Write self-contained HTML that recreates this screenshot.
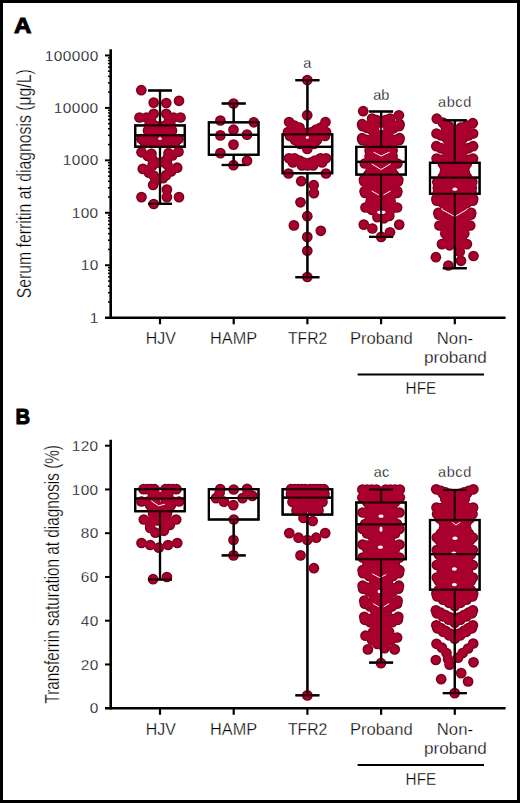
<!DOCTYPE html>
<html><head><meta charset="utf-8"><style>
html,body{margin:0;padding:0;background:#fff;}
text{stroke:#fff;stroke-width:0.28px;}
text.b{stroke:#000;stroke-width:1px;}

body{width:520px;height:803px;position:relative;overflow:hidden;}
.frame{position:absolute;left:0;top:0;width:520px;height:803px;box-sizing:border-box;border:3px solid #000;}
</style></head><body>
<svg width="520" height="803" viewBox="0 0 520 803" style="position:absolute;left:0;top:0">
<g font-family='"Liberation Sans", sans-serif' fill="#000">
<text x="14.00" y="33.40" font-size="22.6" text-anchor="start" font-weight="bold" class="b" stroke="#000" stroke-width="1.0" textLength="17.4" lengthAdjust="spacingAndGlyphs">A</text>
<text x="15.40" y="424.20" font-size="22.6" text-anchor="start" font-weight="bold" class="b" textLength="14.6" lengthAdjust="spacingAndGlyphs">B</text>
<line x1="110.70" y1="49.20" x2="110.70" y2="319.00" stroke="#000" stroke-width="2.6"/>
<line x1="105.00" y1="317.70" x2="505.60" y2="317.70" stroke="#000" stroke-width="2.6"/>
<line x1="108.00" y1="301.91" x2="110.70" y2="301.91" stroke="#000" stroke-width="1.5"/>
<line x1="108.00" y1="292.67" x2="110.70" y2="292.67" stroke="#000" stroke-width="1.5"/>
<line x1="108.00" y1="286.12" x2="110.70" y2="286.12" stroke="#000" stroke-width="1.5"/>
<line x1="108.00" y1="281.04" x2="110.70" y2="281.04" stroke="#000" stroke-width="1.5"/>
<line x1="108.00" y1="276.89" x2="110.70" y2="276.89" stroke="#000" stroke-width="1.5"/>
<line x1="108.00" y1="273.37" x2="110.70" y2="273.37" stroke="#000" stroke-width="1.5"/>
<line x1="108.00" y1="270.33" x2="110.70" y2="270.33" stroke="#000" stroke-width="1.5"/>
<line x1="108.00" y1="267.65" x2="110.70" y2="267.65" stroke="#000" stroke-width="1.5"/>
<text x="98.60" y="322.80" font-size="15.4" text-anchor="end" font-weight="normal" letter-spacing="0.4">1</text>
<line x1="105.00" y1="265.25" x2="110.70" y2="265.25" stroke="#000" stroke-width="2.0"/>
<line x1="108.00" y1="249.46" x2="110.70" y2="249.46" stroke="#000" stroke-width="1.5"/>
<line x1="108.00" y1="240.22" x2="110.70" y2="240.22" stroke="#000" stroke-width="1.5"/>
<line x1="108.00" y1="233.67" x2="110.70" y2="233.67" stroke="#000" stroke-width="1.5"/>
<line x1="108.00" y1="228.59" x2="110.70" y2="228.59" stroke="#000" stroke-width="1.5"/>
<line x1="108.00" y1="224.44" x2="110.70" y2="224.44" stroke="#000" stroke-width="1.5"/>
<line x1="108.00" y1="220.92" x2="110.70" y2="220.92" stroke="#000" stroke-width="1.5"/>
<line x1="108.00" y1="217.88" x2="110.70" y2="217.88" stroke="#000" stroke-width="1.5"/>
<line x1="108.00" y1="215.20" x2="110.70" y2="215.20" stroke="#000" stroke-width="1.5"/>
<text x="98.60" y="270.35" font-size="15.4" text-anchor="end" font-weight="normal" letter-spacing="0.4">10</text>
<line x1="105.00" y1="212.80" x2="110.70" y2="212.80" stroke="#000" stroke-width="2.0"/>
<line x1="108.00" y1="197.01" x2="110.70" y2="197.01" stroke="#000" stroke-width="1.5"/>
<line x1="108.00" y1="187.77" x2="110.70" y2="187.77" stroke="#000" stroke-width="1.5"/>
<line x1="108.00" y1="181.22" x2="110.70" y2="181.22" stroke="#000" stroke-width="1.5"/>
<line x1="108.00" y1="176.14" x2="110.70" y2="176.14" stroke="#000" stroke-width="1.5"/>
<line x1="108.00" y1="171.99" x2="110.70" y2="171.99" stroke="#000" stroke-width="1.5"/>
<line x1="108.00" y1="168.47" x2="110.70" y2="168.47" stroke="#000" stroke-width="1.5"/>
<line x1="108.00" y1="165.43" x2="110.70" y2="165.43" stroke="#000" stroke-width="1.5"/>
<line x1="108.00" y1="162.75" x2="110.70" y2="162.75" stroke="#000" stroke-width="1.5"/>
<text x="98.60" y="217.90" font-size="15.4" text-anchor="end" font-weight="normal" letter-spacing="0.4">100</text>
<line x1="105.00" y1="160.35" x2="110.70" y2="160.35" stroke="#000" stroke-width="2.0"/>
<line x1="108.00" y1="144.56" x2="110.70" y2="144.56" stroke="#000" stroke-width="1.5"/>
<line x1="108.00" y1="135.32" x2="110.70" y2="135.32" stroke="#000" stroke-width="1.5"/>
<line x1="108.00" y1="128.77" x2="110.70" y2="128.77" stroke="#000" stroke-width="1.5"/>
<line x1="108.00" y1="123.69" x2="110.70" y2="123.69" stroke="#000" stroke-width="1.5"/>
<line x1="108.00" y1="119.54" x2="110.70" y2="119.54" stroke="#000" stroke-width="1.5"/>
<line x1="108.00" y1="116.02" x2="110.70" y2="116.02" stroke="#000" stroke-width="1.5"/>
<line x1="108.00" y1="112.98" x2="110.70" y2="112.98" stroke="#000" stroke-width="1.5"/>
<line x1="108.00" y1="110.30" x2="110.70" y2="110.30" stroke="#000" stroke-width="1.5"/>
<text x="98.60" y="165.45" font-size="15.4" text-anchor="end" font-weight="normal" letter-spacing="0.4">1000</text>
<line x1="105.00" y1="107.90" x2="110.70" y2="107.90" stroke="#000" stroke-width="2.0"/>
<line x1="108.00" y1="92.11" x2="110.70" y2="92.11" stroke="#000" stroke-width="1.5"/>
<line x1="108.00" y1="82.87" x2="110.70" y2="82.87" stroke="#000" stroke-width="1.5"/>
<line x1="108.00" y1="76.32" x2="110.70" y2="76.32" stroke="#000" stroke-width="1.5"/>
<line x1="108.00" y1="71.24" x2="110.70" y2="71.24" stroke="#000" stroke-width="1.5"/>
<line x1="108.00" y1="67.09" x2="110.70" y2="67.09" stroke="#000" stroke-width="1.5"/>
<line x1="108.00" y1="63.57" x2="110.70" y2="63.57" stroke="#000" stroke-width="1.5"/>
<line x1="108.00" y1="60.53" x2="110.70" y2="60.53" stroke="#000" stroke-width="1.5"/>
<line x1="108.00" y1="57.85" x2="110.70" y2="57.85" stroke="#000" stroke-width="1.5"/>
<text x="98.60" y="113.00" font-size="15.4" text-anchor="end" font-weight="normal" letter-spacing="0.4">10000</text>
<line x1="105.00" y1="55.45" x2="110.70" y2="55.45" stroke="#000" stroke-width="2.0"/>
<text x="98.60" y="60.55" font-size="15.4" text-anchor="end" font-weight="normal" letter-spacing="0.4">100000</text>
<line x1="160.00" y1="317.70" x2="160.00" y2="324.30" stroke="#000" stroke-width="2.2"/>
<line x1="160.00" y1="708.20" x2="160.00" y2="714.80" stroke="#000" stroke-width="2.2"/>
<line x1="233.70" y1="317.70" x2="233.70" y2="324.30" stroke="#000" stroke-width="2.2"/>
<line x1="233.70" y1="708.20" x2="233.70" y2="714.80" stroke="#000" stroke-width="2.2"/>
<line x1="307.40" y1="317.70" x2="307.40" y2="324.30" stroke="#000" stroke-width="2.2"/>
<line x1="307.40" y1="708.20" x2="307.40" y2="714.80" stroke="#000" stroke-width="2.2"/>
<line x1="381.10" y1="317.70" x2="381.10" y2="324.30" stroke="#000" stroke-width="2.2"/>
<line x1="381.10" y1="708.20" x2="381.10" y2="714.80" stroke="#000" stroke-width="2.2"/>
<line x1="454.80" y1="317.70" x2="454.80" y2="324.30" stroke="#000" stroke-width="2.2"/>
<line x1="454.80" y1="708.20" x2="454.80" y2="714.80" stroke="#000" stroke-width="2.2"/>
<line x1="110.70" y1="439.70" x2="110.70" y2="709.50" stroke="#000" stroke-width="2.6"/>
<line x1="105.00" y1="708.20" x2="505.60" y2="708.20" stroke="#000" stroke-width="2.6"/>
<text x="98.60" y="713.30" font-size="15.4" text-anchor="end" font-weight="normal" letter-spacing="0.4">0</text>
<line x1="105.00" y1="664.45" x2="110.70" y2="664.45" stroke="#000" stroke-width="2.0"/>
<text x="98.60" y="669.55" font-size="15.4" text-anchor="end" font-weight="normal" letter-spacing="0.4">20</text>
<line x1="105.00" y1="620.70" x2="110.70" y2="620.70" stroke="#000" stroke-width="2.0"/>
<text x="98.60" y="625.80" font-size="15.4" text-anchor="end" font-weight="normal" letter-spacing="0.4">40</text>
<line x1="105.00" y1="576.95" x2="110.70" y2="576.95" stroke="#000" stroke-width="2.0"/>
<text x="98.60" y="582.05" font-size="15.4" text-anchor="end" font-weight="normal" letter-spacing="0.4">60</text>
<line x1="105.00" y1="533.20" x2="110.70" y2="533.20" stroke="#000" stroke-width="2.0"/>
<text x="98.60" y="538.30" font-size="15.4" text-anchor="end" font-weight="normal" letter-spacing="0.4">80</text>
<line x1="105.00" y1="489.45" x2="110.70" y2="489.45" stroke="#000" stroke-width="2.0"/>
<text x="98.60" y="494.55" font-size="15.4" text-anchor="end" font-weight="normal" letter-spacing="0.4">100</text>
<line x1="105.00" y1="445.70" x2="110.70" y2="445.70" stroke="#000" stroke-width="2.0"/>
<text x="98.60" y="450.80" font-size="15.4" text-anchor="end" font-weight="normal" letter-spacing="0.4">120</text>
<line x1="160.00" y1="90.50" x2="160.00" y2="125.40" stroke="#000" stroke-width="2.2"/>
<line x1="148.00" y1="90.50" x2="172.00" y2="90.50" stroke="#000" stroke-width="2.2"/>
<line x1="160.00" y1="146.70" x2="160.00" y2="203.80" stroke="#000" stroke-width="2.2"/>
<line x1="148.00" y1="203.80" x2="172.00" y2="203.80" stroke="#000" stroke-width="2.2"/>
<rect x="135.20" y="125.40" width="49.60" height="21.30" fill="none" stroke="#000" stroke-width="2.2"/>
<line x1="135.20" y1="135.40" x2="184.80" y2="135.40" stroke="#000" stroke-width="2.2"/>
<line x1="233.70" y1="103.50" x2="233.70" y2="122.30" stroke="#000" stroke-width="2.2"/>
<line x1="221.70" y1="103.50" x2="245.70" y2="103.50" stroke="#000" stroke-width="2.2"/>
<line x1="233.70" y1="154.80" x2="233.70" y2="165.00" stroke="#000" stroke-width="2.2"/>
<line x1="221.70" y1="165.00" x2="245.70" y2="165.00" stroke="#000" stroke-width="2.2"/>
<rect x="208.90" y="122.30" width="49.60" height="32.50" fill="none" stroke="#000" stroke-width="2.2"/>
<line x1="208.90" y1="134.90" x2="258.50" y2="134.90" stroke="#000" stroke-width="2.2"/>
<line x1="307.40" y1="80.20" x2="307.40" y2="134.30" stroke="#000" stroke-width="2.2"/>
<line x1="295.40" y1="80.20" x2="319.40" y2="80.20" stroke="#000" stroke-width="2.2"/>
<line x1="307.40" y1="173.20" x2="307.40" y2="277.20" stroke="#000" stroke-width="2.2"/>
<line x1="295.40" y1="277.20" x2="319.40" y2="277.20" stroke="#000" stroke-width="2.2"/>
<rect x="282.60" y="134.30" width="49.60" height="38.90" fill="none" stroke="#000" stroke-width="2.2"/>
<line x1="282.60" y1="146.90" x2="332.20" y2="146.90" stroke="#000" stroke-width="2.2"/>
<line x1="381.10" y1="111.50" x2="381.10" y2="146.90" stroke="#000" stroke-width="2.2"/>
<line x1="369.10" y1="111.50" x2="393.10" y2="111.50" stroke="#000" stroke-width="2.2"/>
<line x1="381.10" y1="174.60" x2="381.10" y2="236.90" stroke="#000" stroke-width="2.2"/>
<line x1="369.10" y1="236.90" x2="393.10" y2="236.90" stroke="#000" stroke-width="2.2"/>
<rect x="356.30" y="146.90" width="49.60" height="27.70" fill="none" stroke="#000" stroke-width="2.2"/>
<line x1="356.30" y1="161.80" x2="405.90" y2="161.80" stroke="#000" stroke-width="2.2"/>
<line x1="454.80" y1="120.30" x2="454.80" y2="162.80" stroke="#000" stroke-width="2.2"/>
<line x1="442.80" y1="120.30" x2="466.80" y2="120.30" stroke="#000" stroke-width="2.2"/>
<line x1="454.80" y1="193.80" x2="454.80" y2="268.20" stroke="#000" stroke-width="2.2"/>
<line x1="442.80" y1="268.20" x2="466.80" y2="268.20" stroke="#000" stroke-width="2.2"/>
<rect x="430.00" y="162.80" width="49.60" height="31.00" fill="none" stroke="#000" stroke-width="2.2"/>
<line x1="430.00" y1="177.70" x2="479.60" y2="177.70" stroke="#000" stroke-width="2.2"/>
<line x1="160.00" y1="511.20" x2="160.00" y2="579.50" stroke="#000" stroke-width="2.2"/>
<line x1="148.00" y1="579.50" x2="172.00" y2="579.50" stroke="#000" stroke-width="2.2"/>
<rect x="135.20" y="489.20" width="49.60" height="22.00" fill="none" stroke="#000" stroke-width="2.2"/>
<line x1="135.20" y1="498.50" x2="184.80" y2="498.50" stroke="#000" stroke-width="2.2"/>
<line x1="233.70" y1="519.50" x2="233.70" y2="555.40" stroke="#000" stroke-width="2.2"/>
<line x1="221.70" y1="555.40" x2="245.70" y2="555.40" stroke="#000" stroke-width="2.2"/>
<rect x="208.90" y="489.20" width="49.60" height="30.30" fill="none" stroke="#000" stroke-width="2.2"/>
<line x1="208.90" y1="498.00" x2="258.50" y2="498.00" stroke="#000" stroke-width="2.2"/>
<line x1="307.40" y1="514.60" x2="307.40" y2="695.30" stroke="#000" stroke-width="2.2"/>
<line x1="295.40" y1="695.30" x2="319.40" y2="695.30" stroke="#000" stroke-width="2.2"/>
<rect x="282.60" y="489.20" width="49.60" height="25.40" fill="none" stroke="#000" stroke-width="2.2"/>
<line x1="282.60" y1="497.70" x2="332.20" y2="497.70" stroke="#000" stroke-width="2.2"/>
<line x1="381.10" y1="489.50" x2="381.10" y2="502.50" stroke="#000" stroke-width="2.2"/>
<line x1="369.10" y1="489.50" x2="393.10" y2="489.50" stroke="#000" stroke-width="2.2"/>
<line x1="381.10" y1="559.20" x2="381.10" y2="662.60" stroke="#000" stroke-width="2.2"/>
<line x1="369.10" y1="662.60" x2="393.10" y2="662.60" stroke="#000" stroke-width="2.2"/>
<rect x="356.30" y="502.50" width="49.60" height="56.70" fill="none" stroke="#000" stroke-width="2.2"/>
<line x1="356.30" y1="524.30" x2="405.90" y2="524.30" stroke="#000" stroke-width="2.2"/>
<line x1="454.80" y1="490.00" x2="454.80" y2="520.00" stroke="#000" stroke-width="2.2"/>
<line x1="442.80" y1="490.00" x2="466.80" y2="490.00" stroke="#000" stroke-width="2.2"/>
<line x1="454.80" y1="589.70" x2="454.80" y2="693.10" stroke="#000" stroke-width="2.2"/>
<line x1="442.80" y1="693.10" x2="466.80" y2="693.10" stroke="#000" stroke-width="2.2"/>
<rect x="430.00" y="520.00" width="49.60" height="69.70" fill="none" stroke="#000" stroke-width="2.2"/>
<line x1="430.00" y1="554.20" x2="479.60" y2="554.20" stroke="#000" stroke-width="2.2"/>
<defs><filter id="ring" x="0" y="0" width="520" height="803" filterUnits="userSpaceOnUse"><feMorphology in="SourceAlpha" operator="erode" radius="1.3" result="er"/><feComposite in="SourceGraphic" in2="er" operator="in" result="inner"/><feFlood flood-color="#74001c" result="dk"/><feComposite in="dk" in2="SourceAlpha" operator="in" result="dkall"/><feMerge><feMergeNode in="dkall"/><feMergeNode in="inner"/></feMerge></filter></defs>
<g fill="#aa052e" filter="url(#ring)">
<circle cx="141.3" cy="90.2" r="5.35"/>
<circle cx="153.7" cy="102.6" r="5.35"/>
<circle cx="166.3" cy="103.0" r="5.35"/>
<circle cx="179.0" cy="100.8" r="5.35"/>
<circle cx="153.7" cy="113.8" r="5.35"/>
<circle cx="166.3" cy="113.8" r="5.35"/>
<circle cx="139.5" cy="117.5" r="5.35"/>
<circle cx="146.5" cy="117.5" r="5.35"/>
<circle cx="173.5" cy="117.5" r="5.35"/>
<circle cx="180.5" cy="117.5" r="5.35"/>
<circle cx="151.0" cy="120.5" r="5.35"/>
<circle cx="169.0" cy="120.5" r="5.35"/>
<circle cx="149.0" cy="126.0" r="5.35"/>
<circle cx="156.0" cy="126.0" r="5.35"/>
<circle cx="164.0" cy="126.0" r="5.35"/>
<circle cx="171.0" cy="126.0" r="5.35"/>
<circle cx="148.0" cy="130.5" r="5.35"/>
<circle cx="154.0" cy="130.5" r="5.35"/>
<circle cx="160.0" cy="130.5" r="5.35"/>
<circle cx="166.0" cy="130.5" r="5.35"/>
<circle cx="172.0" cy="130.5" r="5.35"/>
<circle cx="152.0" cy="136.0" r="5.35"/>
<circle cx="168.0" cy="136.0" r="5.35"/>
<circle cx="141.5" cy="139.0" r="5.35"/>
<circle cx="148.0" cy="139.0" r="5.35"/>
<circle cx="154.5" cy="139.0" r="5.35"/>
<circle cx="165.5" cy="139.0" r="5.35"/>
<circle cx="172.0" cy="139.0" r="5.35"/>
<circle cx="178.5" cy="139.0" r="5.35"/>
<circle cx="145.0" cy="143.0" r="5.35"/>
<circle cx="151.5" cy="143.0" r="5.35"/>
<circle cx="160.0" cy="143.0" r="5.35"/>
<circle cx="168.5" cy="143.0" r="5.35"/>
<circle cx="175.0" cy="143.0" r="5.35"/>
<circle cx="141.5" cy="152.3" r="5.35"/>
<circle cx="178.5" cy="151.7" r="5.35"/>
<circle cx="147.7" cy="156.0" r="5.35"/>
<circle cx="172.3" cy="155.4" r="5.35"/>
<circle cx="152.6" cy="159.7" r="5.35"/>
<circle cx="167.4" cy="158.5" r="5.35"/>
<circle cx="156.3" cy="162.8" r="5.35"/>
<circle cx="163.7" cy="162.2" r="5.35"/>
<circle cx="142.8" cy="168.9" r="5.35"/>
<circle cx="177.2" cy="167.7" r="5.35"/>
<circle cx="148.9" cy="172.6" r="5.35"/>
<circle cx="171.0" cy="171.4" r="5.35"/>
<circle cx="153.8" cy="175.7" r="5.35"/>
<circle cx="166.2" cy="175.1" r="5.35"/>
<circle cx="155.7" cy="180.2" r="5.35"/>
<circle cx="163.0" cy="178.2" r="5.35"/>
<circle cx="153.1" cy="185.0" r="5.35"/>
<circle cx="166.9" cy="189.6" r="5.35"/>
<circle cx="141.5" cy="197.1" r="5.35"/>
<circle cx="166.9" cy="197.1" r="5.35"/>
<circle cx="179.0" cy="197.1" r="5.35"/>
<circle cx="153.7" cy="204.0" r="5.35"/>
<circle cx="152.5" cy="165.5" r="5.35"/>
<circle cx="167.5" cy="165.0" r="5.35"/>
<circle cx="151.5" cy="153.8" r="5.35"/>
<circle cx="168.5" cy="153.2" r="5.35"/>
<circle cx="233.5" cy="103.5" r="5.35"/>
<circle cx="220.4" cy="120.5" r="5.35"/>
<circle cx="253.8" cy="122.3" r="5.35"/>
<circle cx="233.5" cy="129.7" r="5.35"/>
<circle cx="220.4" cy="135.4" r="5.35"/>
<circle cx="247.0" cy="134.6" r="5.35"/>
<circle cx="233.5" cy="144.6" r="5.35"/>
<circle cx="220.4" cy="153.1" r="5.35"/>
<circle cx="247.0" cy="160.8" r="5.35"/>
<circle cx="233.5" cy="165.2" r="5.35"/>
<circle cx="307.3" cy="80.0" r="5.35"/>
<circle cx="307.2" cy="115.2" r="5.35"/>
<circle cx="289.1" cy="122.0" r="5.35"/>
<circle cx="325.5" cy="122.0" r="5.35"/>
<circle cx="294.3" cy="125.6" r="5.35"/>
<circle cx="299.5" cy="127.5" r="5.35"/>
<circle cx="320.8" cy="127.5" r="5.35"/>
<circle cx="316.2" cy="129.6" r="5.35"/>
<circle cx="288.0" cy="132.0" r="5.35"/>
<circle cx="295.0" cy="132.0" r="5.35"/>
<circle cx="302.0" cy="132.0" r="5.35"/>
<circle cx="312.0" cy="132.0" r="5.35"/>
<circle cx="319.0" cy="132.0" r="5.35"/>
<circle cx="326.0" cy="132.0" r="5.35"/>
<circle cx="290.0" cy="136.0" r="5.35"/>
<circle cx="297.0" cy="136.0" r="5.35"/>
<circle cx="304.0" cy="136.0" r="5.35"/>
<circle cx="311.0" cy="136.0" r="5.35"/>
<circle cx="318.0" cy="136.0" r="5.35"/>
<circle cx="325.0" cy="136.0" r="5.35"/>
<circle cx="295.0" cy="140.0" r="5.35"/>
<circle cx="302.0" cy="140.0" r="5.35"/>
<circle cx="310.0" cy="140.0" r="5.35"/>
<circle cx="317.0" cy="140.0" r="5.35"/>
<circle cx="300.0" cy="144.0" r="5.35"/>
<circle cx="307.0" cy="144.0" r="5.35"/>
<circle cx="314.0" cy="144.0" r="5.35"/>
<circle cx="307.3" cy="149.0" r="5.35"/>
<circle cx="289.0" cy="158.3" r="5.35"/>
<circle cx="294.5" cy="158.3" r="5.35"/>
<circle cx="320.5" cy="158.3" r="5.35"/>
<circle cx="326.0" cy="158.3" r="5.35"/>
<circle cx="299.5" cy="160.5" r="5.35"/>
<circle cx="315.0" cy="160.5" r="5.35"/>
<circle cx="293.0" cy="162.5" r="5.35"/>
<circle cx="304.0" cy="162.5" r="5.35"/>
<circle cx="310.5" cy="162.5" r="5.35"/>
<circle cx="322.0" cy="162.5" r="5.35"/>
<circle cx="302.0" cy="165.5" r="5.35"/>
<circle cx="307.5" cy="165.5" r="5.35"/>
<circle cx="313.0" cy="165.5" r="5.35"/>
<circle cx="288.5" cy="173.5" r="5.35"/>
<circle cx="326.0" cy="173.5" r="5.35"/>
<circle cx="301.2" cy="181.2" r="5.35"/>
<circle cx="313.7" cy="185.2" r="5.35"/>
<circle cx="313.9" cy="193.1" r="5.35"/>
<circle cx="300.5" cy="202.3" r="5.35"/>
<circle cx="307.3" cy="216.2" r="5.35"/>
<circle cx="293.9" cy="225.4" r="5.35"/>
<circle cx="320.8" cy="230.8" r="5.35"/>
<circle cx="307.3" cy="236.9" r="5.35"/>
<circle cx="307.3" cy="250.8" r="5.35"/>
<circle cx="307.3" cy="277.0" r="5.35"/>
<circle cx="381.1" cy="121.5" r="5.35"/>
<circle cx="376.6" cy="120.0" r="5.35"/>
<circle cx="372.1" cy="118.5" r="5.35"/>
<circle cx="385.6" cy="120.0" r="5.35"/>
<circle cx="390.1" cy="118.5" r="5.35"/>
<circle cx="381.1" cy="131.2" r="5.35"/>
<circle cx="376.4" cy="129.4" r="5.35"/>
<circle cx="371.6" cy="127.7" r="5.35"/>
<circle cx="366.9" cy="126.0" r="5.35"/>
<circle cx="362.1" cy="124.2" r="5.35"/>
<circle cx="385.7" cy="129.4" r="5.35"/>
<circle cx="390.4" cy="127.7" r="5.35"/>
<circle cx="395.0" cy="126.0" r="5.35"/>
<circle cx="399.6" cy="124.2" r="5.35"/>
<circle cx="381.1" cy="133.2" r="5.35"/>
<circle cx="376.5" cy="131.4" r="5.35"/>
<circle cx="371.9" cy="129.7" r="5.35"/>
<circle cx="367.2" cy="128.0" r="5.35"/>
<circle cx="362.6" cy="126.2" r="5.35"/>
<circle cx="387.1" cy="130.9" r="5.35"/>
<circle cx="393.1" cy="128.5" r="5.35"/>
<circle cx="399.1" cy="126.2" r="5.35"/>
<circle cx="381.1" cy="137.0" r="5.35"/>
<circle cx="377.6" cy="135.0" r="5.35"/>
<circle cx="374.1" cy="133.0" r="5.35"/>
<circle cx="384.6" cy="135.0" r="5.35"/>
<circle cx="388.1" cy="133.0" r="5.35"/>
<circle cx="381.1" cy="145.2" r="5.35"/>
<circle cx="376.4" cy="143.4" r="5.35"/>
<circle cx="371.6" cy="141.7" r="5.35"/>
<circle cx="366.9" cy="139.9" r="5.35"/>
<circle cx="362.1" cy="138.2" r="5.35"/>
<circle cx="385.7" cy="143.4" r="5.35"/>
<circle cx="390.4" cy="141.7" r="5.35"/>
<circle cx="395.0" cy="139.9" r="5.35"/>
<circle cx="399.6" cy="138.2" r="5.35"/>
<circle cx="381.1" cy="147.2" r="5.35"/>
<circle cx="376.5" cy="145.4" r="5.35"/>
<circle cx="371.9" cy="143.7" r="5.35"/>
<circle cx="367.2" cy="141.9" r="5.35"/>
<circle cx="362.6" cy="140.2" r="5.35"/>
<circle cx="387.1" cy="144.9" r="5.35"/>
<circle cx="393.1" cy="142.5" r="5.35"/>
<circle cx="399.1" cy="140.2" r="5.35"/>
<circle cx="381.1" cy="149.5" r="5.35"/>
<circle cx="375.6" cy="147.5" r="5.35"/>
<circle cx="370.1" cy="145.5" r="5.35"/>
<circle cx="386.6" cy="147.5" r="5.35"/>
<circle cx="392.1" cy="145.5" r="5.35"/>
<circle cx="381.1" cy="154.5" r="5.35"/>
<circle cx="375.4" cy="152.5" r="5.35"/>
<circle cx="369.6" cy="150.5" r="5.35"/>
<circle cx="386.9" cy="152.5" r="5.35"/>
<circle cx="392.6" cy="150.5" r="5.35"/>
<circle cx="381.1" cy="160.5" r="5.35"/>
<circle cx="375.4" cy="158.5" r="5.35"/>
<circle cx="369.6" cy="156.5" r="5.35"/>
<circle cx="386.9" cy="158.5" r="5.35"/>
<circle cx="392.6" cy="156.5" r="5.35"/>
<circle cx="381.1" cy="167.5" r="5.35"/>
<circle cx="375.7" cy="166.2" r="5.35"/>
<circle cx="370.2" cy="164.8" r="5.35"/>
<circle cx="364.8" cy="163.5" r="5.35"/>
<circle cx="386.5" cy="166.2" r="5.35"/>
<circle cx="392.0" cy="164.8" r="5.35"/>
<circle cx="397.4" cy="163.5" r="5.35"/>
<circle cx="381.1" cy="174.5" r="5.35"/>
<circle cx="375.9" cy="172.5" r="5.35"/>
<circle cx="370.6" cy="170.5" r="5.35"/>
<circle cx="386.4" cy="172.5" r="5.35"/>
<circle cx="391.6" cy="170.5" r="5.35"/>
<circle cx="381.1" cy="179.0" r="5.35"/>
<circle cx="376.8" cy="177.7" r="5.35"/>
<circle cx="372.4" cy="176.3" r="5.35"/>
<circle cx="368.1" cy="175.0" r="5.35"/>
<circle cx="385.4" cy="177.7" r="5.35"/>
<circle cx="389.8" cy="176.3" r="5.35"/>
<circle cx="394.1" cy="175.0" r="5.35"/>
<circle cx="381.1" cy="186.8" r="5.35"/>
<circle cx="375.4" cy="184.5" r="5.35"/>
<circle cx="369.6" cy="182.1" r="5.35"/>
<circle cx="363.9" cy="179.8" r="5.35"/>
<circle cx="386.8" cy="184.5" r="5.35"/>
<circle cx="392.6" cy="182.1" r="5.35"/>
<circle cx="398.3" cy="179.8" r="5.35"/>
<circle cx="381.1" cy="188.5" r="5.35"/>
<circle cx="375.5" cy="186.2" r="5.35"/>
<circle cx="369.9" cy="183.8" r="5.35"/>
<circle cx="364.3" cy="181.5" r="5.35"/>
<circle cx="386.7" cy="186.2" r="5.35"/>
<circle cx="392.3" cy="183.8" r="5.35"/>
<circle cx="397.9" cy="181.5" r="5.35"/>
<circle cx="381.1" cy="191.5" r="5.35"/>
<circle cx="377.1" cy="189.5" r="5.35"/>
<circle cx="373.1" cy="187.5" r="5.35"/>
<circle cx="385.1" cy="189.5" r="5.35"/>
<circle cx="389.1" cy="187.5" r="5.35"/>
<circle cx="381.1" cy="198.2" r="5.35"/>
<circle cx="375.6" cy="195.9" r="5.35"/>
<circle cx="370.1" cy="193.5" r="5.35"/>
<circle cx="364.6" cy="191.2" r="5.35"/>
<circle cx="386.5" cy="195.9" r="5.35"/>
<circle cx="391.9" cy="193.5" r="5.35"/>
<circle cx="397.3" cy="191.2" r="5.35"/>
<circle cx="381.1" cy="200.0" r="5.35"/>
<circle cx="375.8" cy="197.7" r="5.35"/>
<circle cx="370.4" cy="195.3" r="5.35"/>
<circle cx="365.1" cy="193.0" r="5.35"/>
<circle cx="386.4" cy="197.7" r="5.35"/>
<circle cx="391.6" cy="195.3" r="5.35"/>
<circle cx="396.9" cy="193.0" r="5.35"/>
<circle cx="381.1" cy="202.5" r="5.35"/>
<circle cx="377.1" cy="200.5" r="5.35"/>
<circle cx="373.1" cy="198.5" r="5.35"/>
<circle cx="385.1" cy="200.5" r="5.35"/>
<circle cx="389.1" cy="198.5" r="5.35"/>
<circle cx="381.1" cy="205.5" r="5.35"/>
<circle cx="375.9" cy="203.5" r="5.35"/>
<circle cx="370.6" cy="201.5" r="5.35"/>
<circle cx="385.9" cy="203.5" r="5.35"/>
<circle cx="390.6" cy="201.5" r="5.35"/>
<circle cx="375.9" cy="209.5" r="5.35"/>
<circle cx="370.7" cy="208.5" r="5.35"/>
<circle cx="365.5" cy="207.5" r="5.35"/>
<circle cx="386.4" cy="209.5" r="5.35"/>
<circle cx="391.8" cy="208.5" r="5.35"/>
<circle cx="397.1" cy="207.5" r="5.35"/>
<circle cx="376.6" cy="211.0" r="5.35"/>
<circle cx="372.1" cy="210.0" r="5.35"/>
<circle cx="385.6" cy="211.0" r="5.35"/>
<circle cx="390.1" cy="210.0" r="5.35"/>
<circle cx="363.2" cy="111.2" r="5.35"/>
<circle cx="398.9" cy="115.3" r="5.35"/>
<circle cx="377.4" cy="217.1" r="5.35"/>
<circle cx="384.0" cy="218.3" r="5.35"/>
<circle cx="389.3" cy="215.9" r="5.35"/>
<circle cx="363.8" cy="224.6" r="5.35"/>
<circle cx="372.3" cy="228.5" r="5.35"/>
<circle cx="399.2" cy="224.6" r="5.35"/>
<circle cx="390.0" cy="232.3" r="5.35"/>
<circle cx="381.2" cy="236.9" r="5.35"/>
<circle cx="454.8" cy="129.9" r="5.35"/>
<circle cx="448.8" cy="126.2" r="5.35"/>
<circle cx="442.8" cy="122.5" r="5.35"/>
<circle cx="436.8" cy="118.7" r="5.35"/>
<circle cx="460.8" cy="127.7" r="5.35"/>
<circle cx="466.8" cy="125.5" r="5.35"/>
<circle cx="472.8" cy="123.2" r="5.35"/>
<circle cx="454.8" cy="131.5" r="5.35"/>
<circle cx="450.3" cy="129.5" r="5.35"/>
<circle cx="445.8" cy="127.5" r="5.35"/>
<circle cx="459.3" cy="129.5" r="5.35"/>
<circle cx="463.8" cy="127.5" r="5.35"/>
<circle cx="454.8" cy="141.0" r="5.35"/>
<circle cx="450.2" cy="139.1" r="5.35"/>
<circle cx="445.7" cy="137.2" r="5.35"/>
<circle cx="441.1" cy="135.4" r="5.35"/>
<circle cx="436.5" cy="133.5" r="5.35"/>
<circle cx="459.4" cy="139.1" r="5.35"/>
<circle cx="463.9" cy="137.2" r="5.35"/>
<circle cx="468.5" cy="135.4" r="5.35"/>
<circle cx="473.1" cy="133.5" r="5.35"/>
<circle cx="454.8" cy="144.0" r="5.35"/>
<circle cx="451.3" cy="142.0" r="5.35"/>
<circle cx="447.8" cy="140.0" r="5.35"/>
<circle cx="458.3" cy="142.0" r="5.35"/>
<circle cx="461.8" cy="140.0" r="5.35"/>
<circle cx="454.8" cy="153.7" r="5.35"/>
<circle cx="450.2" cy="151.8" r="5.35"/>
<circle cx="445.6" cy="149.9" r="5.35"/>
<circle cx="440.9" cy="148.1" r="5.35"/>
<circle cx="436.3" cy="146.2" r="5.35"/>
<circle cx="459.4" cy="151.8" r="5.35"/>
<circle cx="463.9" cy="149.9" r="5.35"/>
<circle cx="468.5" cy="148.1" r="5.35"/>
<circle cx="473.1" cy="146.2" r="5.35"/>
<circle cx="454.8" cy="156.5" r="5.35"/>
<circle cx="451.3" cy="154.5" r="5.35"/>
<circle cx="447.8" cy="152.5" r="5.35"/>
<circle cx="458.3" cy="154.5" r="5.35"/>
<circle cx="461.8" cy="152.5" r="5.35"/>
<circle cx="454.8" cy="163.5" r="5.35"/>
<circle cx="450.2" cy="162.2" r="5.35"/>
<circle cx="445.7" cy="161.0" r="5.35"/>
<circle cx="441.2" cy="159.8" r="5.35"/>
<circle cx="436.6" cy="158.5" r="5.35"/>
<circle cx="459.4" cy="162.2" r="5.35"/>
<circle cx="463.9" cy="161.0" r="5.35"/>
<circle cx="468.4" cy="159.8" r="5.35"/>
<circle cx="473.0" cy="158.5" r="5.35"/>
<circle cx="454.8" cy="167.5" r="5.35"/>
<circle cx="448.8" cy="165.5" r="5.35"/>
<circle cx="442.8" cy="163.5" r="5.35"/>
<circle cx="460.8" cy="165.5" r="5.35"/>
<circle cx="466.8" cy="163.5" r="5.35"/>
<circle cx="454.8" cy="170.0" r="5.35"/>
<circle cx="449.8" cy="168.5" r="5.35"/>
<circle cx="444.8" cy="167.0" r="5.35"/>
<circle cx="459.8" cy="168.5" r="5.35"/>
<circle cx="464.8" cy="167.0" r="5.35"/>
<circle cx="454.8" cy="175.5" r="5.35"/>
<circle cx="449.8" cy="174.0" r="5.35"/>
<circle cx="444.8" cy="172.5" r="5.35"/>
<circle cx="459.8" cy="174.0" r="5.35"/>
<circle cx="464.8" cy="172.5" r="5.35"/>
<circle cx="454.8" cy="180.0" r="5.35"/>
<circle cx="448.8" cy="178.5" r="5.35"/>
<circle cx="442.8" cy="177.0" r="5.35"/>
<circle cx="460.8" cy="178.5" r="5.35"/>
<circle cx="466.8" cy="177.0" r="5.35"/>
<circle cx="454.8" cy="185.0" r="5.35"/>
<circle cx="449.0" cy="184.0" r="5.35"/>
<circle cx="443.1" cy="183.0" r="5.35"/>
<circle cx="437.3" cy="182.0" r="5.35"/>
<circle cx="460.6" cy="184.0" r="5.35"/>
<circle cx="466.5" cy="183.0" r="5.35"/>
<circle cx="472.3" cy="182.0" r="5.35"/>
<circle cx="449.1" cy="189.3" r="5.35"/>
<circle cx="443.5" cy="188.7" r="5.35"/>
<circle cx="437.8" cy="188.0" r="5.35"/>
<circle cx="460.5" cy="189.3" r="5.35"/>
<circle cx="466.1" cy="188.7" r="5.35"/>
<circle cx="471.8" cy="188.0" r="5.35"/>
<circle cx="454.8" cy="196.0" r="5.35"/>
<circle cx="449.1" cy="195.0" r="5.35"/>
<circle cx="443.5" cy="194.0" r="5.35"/>
<circle cx="437.8" cy="193.0" r="5.35"/>
<circle cx="460.5" cy="195.0" r="5.35"/>
<circle cx="466.1" cy="194.0" r="5.35"/>
<circle cx="471.8" cy="193.0" r="5.35"/>
<circle cx="454.8" cy="205.8" r="5.35"/>
<circle cx="450.2" cy="204.1" r="5.35"/>
<circle cx="445.6" cy="202.3" r="5.35"/>
<circle cx="441.0" cy="200.6" r="5.35"/>
<circle cx="436.4" cy="198.8" r="5.35"/>
<circle cx="459.4" cy="204.1" r="5.35"/>
<circle cx="464.0" cy="202.3" r="5.35"/>
<circle cx="468.6" cy="200.6" r="5.35"/>
<circle cx="473.2" cy="198.8" r="5.35"/>
<circle cx="454.8" cy="207.6" r="5.35"/>
<circle cx="448.8" cy="205.3" r="5.35"/>
<circle cx="442.8" cy="202.9" r="5.35"/>
<circle cx="436.8" cy="200.6" r="5.35"/>
<circle cx="460.8" cy="205.3" r="5.35"/>
<circle cx="466.8" cy="202.9" r="5.35"/>
<circle cx="472.8" cy="200.6" r="5.35"/>
<circle cx="454.8" cy="210.0" r="5.35"/>
<circle cx="451.3" cy="208.5" r="5.35"/>
<circle cx="447.8" cy="207.0" r="5.35"/>
<circle cx="458.3" cy="208.5" r="5.35"/>
<circle cx="461.8" cy="207.0" r="5.35"/>
<circle cx="454.8" cy="219.8" r="5.35"/>
<circle cx="449.3" cy="217.5" r="5.35"/>
<circle cx="443.9" cy="215.1" r="5.35"/>
<circle cx="438.4" cy="212.8" r="5.35"/>
<circle cx="460.3" cy="217.5" r="5.35"/>
<circle cx="465.7" cy="215.1" r="5.35"/>
<circle cx="471.2" cy="212.8" r="5.35"/>
<circle cx="454.8" cy="221.6" r="5.35"/>
<circle cx="449.5" cy="219.3" r="5.35"/>
<circle cx="444.1" cy="216.9" r="5.35"/>
<circle cx="438.8" cy="214.6" r="5.35"/>
<circle cx="460.1" cy="219.3" r="5.35"/>
<circle cx="465.5" cy="216.9" r="5.35"/>
<circle cx="470.8" cy="214.6" r="5.35"/>
<circle cx="454.8" cy="224.6" r="5.35"/>
<circle cx="451.3" cy="222.6" r="5.35"/>
<circle cx="447.8" cy="220.6" r="5.35"/>
<circle cx="458.3" cy="222.6" r="5.35"/>
<circle cx="461.8" cy="220.6" r="5.35"/>
<circle cx="454.8" cy="231.5" r="5.35"/>
<circle cx="449.7" cy="229.5" r="5.35"/>
<circle cx="444.5" cy="227.5" r="5.35"/>
<circle cx="439.4" cy="225.5" r="5.35"/>
<circle cx="459.9" cy="229.5" r="5.35"/>
<circle cx="465.1" cy="227.5" r="5.35"/>
<circle cx="470.2" cy="225.5" r="5.35"/>
<circle cx="454.8" cy="236.5" r="5.35"/>
<circle cx="450.1" cy="235.0" r="5.35"/>
<circle cx="445.3" cy="233.5" r="5.35"/>
<circle cx="459.6" cy="235.0" r="5.35"/>
<circle cx="464.3" cy="233.5" r="5.35"/>
<circle cx="454.8" cy="239.5" r="5.35"/>
<circle cx="451.3" cy="238.5" r="5.35"/>
<circle cx="447.8" cy="237.5" r="5.35"/>
<circle cx="458.3" cy="238.5" r="5.35"/>
<circle cx="461.8" cy="237.5" r="5.35"/>
<circle cx="441.9" cy="244.1" r="5.35"/>
<circle cx="449.6" cy="245.3" r="5.35"/>
<circle cx="459.8" cy="244.7" r="5.35"/>
<circle cx="466.9" cy="244.1" r="5.35"/>
<circle cx="459.8" cy="251.8" r="5.35"/>
<circle cx="435.9" cy="257.2" r="5.35"/>
<circle cx="473.5" cy="256.0" r="5.35"/>
<circle cx="461.0" cy="260.8" r="5.35"/>
<circle cx="448.4" cy="265.5" r="5.35"/>
<circle cx="143.5" cy="489.2" r="5.35"/>
<circle cx="147.5" cy="489.2" r="5.35"/>
<circle cx="151.0" cy="489.2" r="5.35"/>
<circle cx="154.5" cy="489.2" r="5.35"/>
<circle cx="165.5" cy="489.2" r="5.35"/>
<circle cx="169.0" cy="489.2" r="5.35"/>
<circle cx="172.5" cy="489.2" r="5.35"/>
<circle cx="176.5" cy="489.2" r="5.35"/>
<circle cx="160.0" cy="492.5" r="5.35"/>
<circle cx="153.0" cy="495.5" r="5.35"/>
<circle cx="158.0" cy="495.5" r="5.35"/>
<circle cx="163.0" cy="495.5" r="5.35"/>
<circle cx="168.0" cy="495.5" r="5.35"/>
<circle cx="141.5" cy="501.5" r="5.35"/>
<circle cx="148.0" cy="501.5" r="5.35"/>
<circle cx="154.5" cy="501.5" r="5.35"/>
<circle cx="166.0" cy="501.5" r="5.35"/>
<circle cx="172.5" cy="501.5" r="5.35"/>
<circle cx="179.0" cy="501.5" r="5.35"/>
<circle cx="150.0" cy="505.0" r="5.35"/>
<circle cx="156.0" cy="505.0" r="5.35"/>
<circle cx="165.0" cy="505.0" r="5.35"/>
<circle cx="171.0" cy="505.0" r="5.35"/>
<circle cx="152.0" cy="508.5" r="5.35"/>
<circle cx="158.0" cy="508.5" r="5.35"/>
<circle cx="164.0" cy="508.5" r="5.35"/>
<circle cx="169.0" cy="508.5" r="5.35"/>
<circle cx="153.1" cy="513.7" r="5.35"/>
<circle cx="160.0" cy="513.7" r="5.35"/>
<circle cx="166.9" cy="513.7" r="5.35"/>
<circle cx="143.8" cy="519.5" r="5.35"/>
<circle cx="176.2" cy="519.5" r="5.35"/>
<circle cx="150.2" cy="522.3" r="5.35"/>
<circle cx="164.6" cy="522.3" r="5.35"/>
<circle cx="169.8" cy="522.3" r="5.35"/>
<circle cx="150.2" cy="525.0" r="5.35"/>
<circle cx="169.8" cy="525.0" r="5.35"/>
<circle cx="150.2" cy="528.0" r="5.35"/>
<circle cx="164.6" cy="528.0" r="5.35"/>
<circle cx="155.4" cy="532.7" r="5.35"/>
<circle cx="163.8" cy="530.8" r="5.35"/>
<circle cx="141.5" cy="543.0" r="5.35"/>
<circle cx="177.3" cy="543.0" r="5.35"/>
<circle cx="150.2" cy="545.0" r="5.35"/>
<circle cx="168.1" cy="545.0" r="5.35"/>
<circle cx="158.8" cy="547.7" r="5.35"/>
<circle cx="166.9" cy="577.0" r="5.35"/>
<circle cx="153.1" cy="579.2" r="5.35"/>
<circle cx="157.5" cy="520.5" r="5.35"/>
<circle cx="220.3" cy="489.0" r="5.35"/>
<circle cx="233.7" cy="489.5" r="5.35"/>
<circle cx="247.1" cy="488.8" r="5.35"/>
<circle cx="219.6" cy="493.0" r="5.35"/>
<circle cx="216.0" cy="498.2" r="5.35"/>
<circle cx="224.0" cy="501.7" r="5.35"/>
<circle cx="233.3" cy="505.1" r="5.35"/>
<circle cx="242.5" cy="498.2" r="5.35"/>
<circle cx="247.7" cy="493.0" r="5.35"/>
<circle cx="252.3" cy="495.9" r="5.35"/>
<circle cx="233.8" cy="519.5" r="5.35"/>
<circle cx="233.5" cy="540.0" r="5.35"/>
<circle cx="233.5" cy="555.4" r="5.35"/>
<circle cx="291.0" cy="489.2" r="5.35"/>
<circle cx="294.5" cy="489.2" r="5.35"/>
<circle cx="298.0" cy="489.2" r="5.35"/>
<circle cx="301.5" cy="489.2" r="5.35"/>
<circle cx="305.0" cy="489.2" r="5.35"/>
<circle cx="310.0" cy="489.2" r="5.35"/>
<circle cx="313.5" cy="489.2" r="5.35"/>
<circle cx="317.0" cy="489.2" r="5.35"/>
<circle cx="320.5" cy="489.2" r="5.35"/>
<circle cx="324.0" cy="489.2" r="5.35"/>
<circle cx="307.5" cy="491.0" r="5.35"/>
<circle cx="291.0" cy="494.0" r="5.35"/>
<circle cx="297.0" cy="494.0" r="5.35"/>
<circle cx="303.0" cy="494.0" r="5.35"/>
<circle cx="309.0" cy="494.0" r="5.35"/>
<circle cx="315.0" cy="494.0" r="5.35"/>
<circle cx="321.0" cy="494.0" r="5.35"/>
<circle cx="324.5" cy="494.0" r="5.35"/>
<circle cx="293.0" cy="497.5" r="5.35"/>
<circle cx="299.0" cy="497.5" r="5.35"/>
<circle cx="316.0" cy="497.5" r="5.35"/>
<circle cx="322.5" cy="497.5" r="5.35"/>
<circle cx="292.5" cy="502.0" r="5.35"/>
<circle cx="298.5" cy="502.0" r="5.35"/>
<circle cx="305.0" cy="502.0" r="5.35"/>
<circle cx="311.0" cy="502.0" r="5.35"/>
<circle cx="317.0" cy="502.0" r="5.35"/>
<circle cx="322.5" cy="502.0" r="5.35"/>
<circle cx="297.0" cy="506.5" r="5.35"/>
<circle cx="303.0" cy="506.5" r="5.35"/>
<circle cx="312.0" cy="506.5" r="5.35"/>
<circle cx="318.0" cy="506.5" r="5.35"/>
<circle cx="296.5" cy="510.5" r="5.35"/>
<circle cx="302.5" cy="510.5" r="5.35"/>
<circle cx="313.0" cy="510.5" r="5.35"/>
<circle cx="318.5" cy="510.5" r="5.35"/>
<circle cx="303.5" cy="518.0" r="5.35"/>
<circle cx="312.7" cy="521.0" r="5.35"/>
<circle cx="289.3" cy="533.1" r="5.35"/>
<circle cx="325.2" cy="533.1" r="5.35"/>
<circle cx="298.5" cy="537.7" r="5.35"/>
<circle cx="316.2" cy="537.7" r="5.35"/>
<circle cx="307.3" cy="540.0" r="5.35"/>
<circle cx="300.5" cy="555.4" r="5.35"/>
<circle cx="313.9" cy="568.2" r="5.35"/>
<circle cx="307.3" cy="695.4" r="5.35"/>
<circle cx="376.4" cy="489.5" r="5.35"/>
<circle cx="371.8" cy="489.5" r="5.35"/>
<circle cx="367.1" cy="489.5" r="5.35"/>
<circle cx="362.4" cy="489.5" r="5.35"/>
<circle cx="385.8" cy="489.5" r="5.35"/>
<circle cx="390.5" cy="489.5" r="5.35"/>
<circle cx="395.1" cy="489.5" r="5.35"/>
<circle cx="399.8" cy="489.5" r="5.35"/>
<circle cx="381.1" cy="492.0" r="5.35"/>
<circle cx="376.1" cy="492.0" r="5.35"/>
<circle cx="386.1" cy="492.0" r="5.35"/>
<circle cx="381.1" cy="499.5" r="5.35"/>
<circle cx="376.4" cy="499.0" r="5.35"/>
<circle cx="371.8" cy="498.5" r="5.35"/>
<circle cx="367.1" cy="498.0" r="5.35"/>
<circle cx="362.4" cy="497.5" r="5.35"/>
<circle cx="385.8" cy="499.0" r="5.35"/>
<circle cx="390.5" cy="498.5" r="5.35"/>
<circle cx="395.1" cy="498.0" r="5.35"/>
<circle cx="399.8" cy="497.5" r="5.35"/>
<circle cx="381.1" cy="504.0" r="5.35"/>
<circle cx="376.4" cy="503.3" r="5.35"/>
<circle cx="371.8" cy="502.7" r="5.35"/>
<circle cx="367.1" cy="502.0" r="5.35"/>
<circle cx="385.8" cy="503.3" r="5.35"/>
<circle cx="390.4" cy="502.7" r="5.35"/>
<circle cx="395.1" cy="502.0" r="5.35"/>
<circle cx="381.1" cy="508.5" r="5.35"/>
<circle cx="375.4" cy="507.0" r="5.35"/>
<circle cx="369.6" cy="505.5" r="5.35"/>
<circle cx="386.9" cy="507.0" r="5.35"/>
<circle cx="392.6" cy="505.5" r="5.35"/>
<circle cx="381.1" cy="515.5" r="5.35"/>
<circle cx="376.5" cy="514.8" r="5.35"/>
<circle cx="371.9" cy="514.0" r="5.35"/>
<circle cx="367.2" cy="513.2" r="5.35"/>
<circle cx="362.6" cy="512.5" r="5.35"/>
<circle cx="385.7" cy="514.8" r="5.35"/>
<circle cx="390.2" cy="514.0" r="5.35"/>
<circle cx="394.8" cy="513.2" r="5.35"/>
<circle cx="399.4" cy="512.5" r="5.35"/>
<circle cx="381.1" cy="522.5" r="5.35"/>
<circle cx="375.4" cy="521.0" r="5.35"/>
<circle cx="369.6" cy="519.5" r="5.35"/>
<circle cx="386.9" cy="521.0" r="5.35"/>
<circle cx="392.6" cy="519.5" r="5.35"/>
<circle cx="381.1" cy="527.0" r="5.35"/>
<circle cx="375.8" cy="526.0" r="5.35"/>
<circle cx="370.4" cy="525.0" r="5.35"/>
<circle cx="365.1" cy="524.0" r="5.35"/>
<circle cx="386.4" cy="526.0" r="5.35"/>
<circle cx="391.8" cy="525.0" r="5.35"/>
<circle cx="397.1" cy="524.0" r="5.35"/>
<circle cx="381.1" cy="533.0" r="5.35"/>
<circle cx="376.5" cy="532.0" r="5.35"/>
<circle cx="371.9" cy="531.0" r="5.35"/>
<circle cx="367.2" cy="530.0" r="5.35"/>
<circle cx="362.6" cy="529.0" r="5.35"/>
<circle cx="385.7" cy="532.0" r="5.35"/>
<circle cx="390.2" cy="531.0" r="5.35"/>
<circle cx="394.8" cy="530.0" r="5.35"/>
<circle cx="399.4" cy="529.0" r="5.35"/>
<circle cx="381.1" cy="536.5" r="5.35"/>
<circle cx="376.4" cy="535.5" r="5.35"/>
<circle cx="371.8" cy="534.5" r="5.35"/>
<circle cx="367.1" cy="533.5" r="5.35"/>
<circle cx="385.8" cy="535.5" r="5.35"/>
<circle cx="390.4" cy="534.5" r="5.35"/>
<circle cx="395.1" cy="533.5" r="5.35"/>
<circle cx="381.1" cy="542.0" r="5.35"/>
<circle cx="377.2" cy="540.0" r="5.35"/>
<circle cx="373.2" cy="538.0" r="5.35"/>
<circle cx="385.5" cy="540.0" r="5.35"/>
<circle cx="389.9" cy="538.0" r="5.35"/>
<circle cx="381.1" cy="548.5" r="5.35"/>
<circle cx="376.5" cy="547.5" r="5.35"/>
<circle cx="371.9" cy="546.5" r="5.35"/>
<circle cx="367.2" cy="545.5" r="5.35"/>
<circle cx="362.6" cy="544.5" r="5.35"/>
<circle cx="385.7" cy="547.5" r="5.35"/>
<circle cx="390.2" cy="546.5" r="5.35"/>
<circle cx="394.8" cy="545.5" r="5.35"/>
<circle cx="399.4" cy="544.5" r="5.35"/>
<circle cx="381.1" cy="551.5" r="5.35"/>
<circle cx="376.4" cy="550.5" r="5.35"/>
<circle cx="371.8" cy="549.5" r="5.35"/>
<circle cx="367.1" cy="548.5" r="5.35"/>
<circle cx="385.8" cy="550.5" r="5.35"/>
<circle cx="390.4" cy="549.5" r="5.35"/>
<circle cx="395.1" cy="548.5" r="5.35"/>
<circle cx="381.1" cy="556.0" r="5.35"/>
<circle cx="376.9" cy="554.7" r="5.35"/>
<circle cx="372.8" cy="553.3" r="5.35"/>
<circle cx="368.6" cy="552.0" r="5.35"/>
<circle cx="385.3" cy="554.7" r="5.35"/>
<circle cx="389.4" cy="553.3" r="5.35"/>
<circle cx="393.6" cy="552.0" r="5.35"/>
<circle cx="381.1" cy="560.5" r="5.35"/>
<circle cx="376.5" cy="559.8" r="5.35"/>
<circle cx="371.9" cy="559.0" r="5.35"/>
<circle cx="367.2" cy="558.2" r="5.35"/>
<circle cx="362.6" cy="557.5" r="5.35"/>
<circle cx="385.7" cy="559.8" r="5.35"/>
<circle cx="390.2" cy="559.0" r="5.35"/>
<circle cx="394.8" cy="558.2" r="5.35"/>
<circle cx="399.4" cy="557.5" r="5.35"/>
<circle cx="381.1" cy="566.5" r="5.35"/>
<circle cx="376.5" cy="565.2" r="5.35"/>
<circle cx="371.9" cy="563.8" r="5.35"/>
<circle cx="367.3" cy="562.5" r="5.35"/>
<circle cx="385.7" cy="565.2" r="5.35"/>
<circle cx="390.3" cy="563.8" r="5.35"/>
<circle cx="394.9" cy="562.5" r="5.35"/>
<circle cx="381.1" cy="571.0" r="5.35"/>
<circle cx="376.1" cy="568.5" r="5.35"/>
<circle cx="371.1" cy="566.0" r="5.35"/>
<circle cx="386.1" cy="568.5" r="5.35"/>
<circle cx="391.1" cy="566.0" r="5.35"/>
<circle cx="381.1" cy="578.2" r="5.35"/>
<circle cx="376.5" cy="576.2" r="5.35"/>
<circle cx="371.9" cy="574.2" r="5.35"/>
<circle cx="367.2" cy="572.2" r="5.35"/>
<circle cx="362.6" cy="570.2" r="5.35"/>
<circle cx="385.7" cy="576.2" r="5.35"/>
<circle cx="390.2" cy="574.2" r="5.35"/>
<circle cx="394.8" cy="572.2" r="5.35"/>
<circle cx="399.4" cy="570.2" r="5.35"/>
<circle cx="381.1" cy="581.2" r="5.35"/>
<circle cx="375.1" cy="578.5" r="5.35"/>
<circle cx="369.1" cy="575.9" r="5.35"/>
<circle cx="363.1" cy="573.2" r="5.35"/>
<circle cx="387.0" cy="578.5" r="5.35"/>
<circle cx="393.0" cy="575.9" r="5.35"/>
<circle cx="398.9" cy="573.2" r="5.35"/>
<circle cx="381.1" cy="584.5" r="5.35"/>
<circle cx="377.6" cy="582.5" r="5.35"/>
<circle cx="374.1" cy="580.5" r="5.35"/>
<circle cx="384.6" cy="582.5" r="5.35"/>
<circle cx="388.1" cy="580.5" r="5.35"/>
<circle cx="381.1" cy="593.7" r="5.35"/>
<circle cx="376.5" cy="591.7" r="5.35"/>
<circle cx="371.9" cy="589.7" r="5.35"/>
<circle cx="367.2" cy="587.7" r="5.35"/>
<circle cx="362.6" cy="585.7" r="5.35"/>
<circle cx="387.0" cy="591.0" r="5.35"/>
<circle cx="393.0" cy="588.4" r="5.35"/>
<circle cx="398.9" cy="585.7" r="5.35"/>
<circle cx="381.1" cy="596.7" r="5.35"/>
<circle cx="375.1" cy="594.0" r="5.35"/>
<circle cx="369.1" cy="591.4" r="5.35"/>
<circle cx="363.1" cy="588.7" r="5.35"/>
<circle cx="386.9" cy="594.0" r="5.35"/>
<circle cx="392.6" cy="591.4" r="5.35"/>
<circle cx="398.4" cy="588.7" r="5.35"/>
<circle cx="381.1" cy="600.0" r="5.35"/>
<circle cx="377.6" cy="598.0" r="5.35"/>
<circle cx="374.1" cy="596.0" r="5.35"/>
<circle cx="384.6" cy="598.0" r="5.35"/>
<circle cx="388.1" cy="596.0" r="5.35"/>
<circle cx="381.1" cy="608.7" r="5.35"/>
<circle cx="375.5" cy="606.0" r="5.35"/>
<circle cx="369.9" cy="603.4" r="5.35"/>
<circle cx="364.3" cy="600.7" r="5.35"/>
<circle cx="386.6" cy="606.0" r="5.35"/>
<circle cx="392.1" cy="603.4" r="5.35"/>
<circle cx="397.6" cy="600.7" r="5.35"/>
<circle cx="381.1" cy="611.7" r="5.35"/>
<circle cx="375.7" cy="609.0" r="5.35"/>
<circle cx="370.2" cy="606.4" r="5.35"/>
<circle cx="364.8" cy="603.7" r="5.35"/>
<circle cx="386.4" cy="609.0" r="5.35"/>
<circle cx="391.8" cy="606.4" r="5.35"/>
<circle cx="397.1" cy="603.7" r="5.35"/>
<circle cx="381.1" cy="615.0" r="5.35"/>
<circle cx="375.1" cy="611.0" r="5.35"/>
<circle cx="387.1" cy="611.0" r="5.35"/>
<circle cx="381.1" cy="623.8" r="5.35"/>
<circle cx="375.5" cy="621.5" r="5.35"/>
<circle cx="369.9" cy="619.1" r="5.35"/>
<circle cx="364.3" cy="616.8" r="5.35"/>
<circle cx="386.8" cy="621.5" r="5.35"/>
<circle cx="392.6" cy="619.1" r="5.35"/>
<circle cx="398.3" cy="616.8" r="5.35"/>
<circle cx="381.1" cy="626.8" r="5.35"/>
<circle cx="375.7" cy="624.5" r="5.35"/>
<circle cx="370.2" cy="622.1" r="5.35"/>
<circle cx="364.8" cy="619.8" r="5.35"/>
<circle cx="386.7" cy="624.5" r="5.35"/>
<circle cx="392.2" cy="622.1" r="5.35"/>
<circle cx="397.8" cy="619.8" r="5.35"/>
<circle cx="381.1" cy="630.0" r="5.35"/>
<circle cx="376.8" cy="627.0" r="5.35"/>
<circle cx="385.1" cy="627.0" r="5.35"/>
<circle cx="381.1" cy="635.0" r="5.35"/>
<circle cx="377.1" cy="633.5" r="5.35"/>
<circle cx="373.1" cy="632.0" r="5.35"/>
<circle cx="385.1" cy="633.5" r="5.35"/>
<circle cx="389.1" cy="632.0" r="5.35"/>
<circle cx="365.5" cy="635.7" r="5.35"/>
<circle cx="373.8" cy="635.7" r="5.35"/>
<circle cx="389.3" cy="635.7" r="5.35"/>
<circle cx="397.1" cy="637.5" r="5.35"/>
<circle cx="377.4" cy="644.0" r="5.35"/>
<circle cx="385.8" cy="642.9" r="5.35"/>
<circle cx="367.9" cy="649.4" r="5.35"/>
<circle cx="394.7" cy="649.4" r="5.35"/>
<circle cx="384.6" cy="648.2" r="5.35"/>
<circle cx="381.0" cy="663.2" r="5.35"/>
<circle cx="372.0" cy="640.0" r="5.35"/>
<circle cx="391.0" cy="640.0" r="5.35"/>
<circle cx="454.8" cy="495.3" r="5.35"/>
<circle cx="450.2" cy="493.8" r="5.35"/>
<circle cx="445.5" cy="492.3" r="5.35"/>
<circle cx="440.9" cy="490.8" r="5.35"/>
<circle cx="436.2" cy="489.3" r="5.35"/>
<circle cx="459.4" cy="493.8" r="5.35"/>
<circle cx="464.1" cy="492.3" r="5.35"/>
<circle cx="468.8" cy="490.8" r="5.35"/>
<circle cx="473.4" cy="489.3" r="5.35"/>
<circle cx="454.8" cy="496.5" r="5.35"/>
<circle cx="448.8" cy="495.0" r="5.35"/>
<circle cx="442.8" cy="493.5" r="5.35"/>
<circle cx="460.8" cy="495.0" r="5.35"/>
<circle cx="466.8" cy="493.5" r="5.35"/>
<circle cx="454.8" cy="501.0" r="5.35"/>
<circle cx="450.1" cy="500.0" r="5.35"/>
<circle cx="445.3" cy="499.0" r="5.35"/>
<circle cx="459.8" cy="500.0" r="5.35"/>
<circle cx="464.8" cy="499.0" r="5.35"/>
<circle cx="454.8" cy="509.5" r="5.35"/>
<circle cx="450.2" cy="509.0" r="5.35"/>
<circle cx="445.7" cy="508.5" r="5.35"/>
<circle cx="441.1" cy="508.0" r="5.35"/>
<circle cx="436.5" cy="507.5" r="5.35"/>
<circle cx="459.4" cy="509.0" r="5.35"/>
<circle cx="463.9" cy="508.5" r="5.35"/>
<circle cx="468.5" cy="508.0" r="5.35"/>
<circle cx="473.1" cy="507.5" r="5.35"/>
<circle cx="454.8" cy="516.0" r="5.35"/>
<circle cx="448.9" cy="515.3" r="5.35"/>
<circle cx="443.0" cy="514.7" r="5.35"/>
<circle cx="437.1" cy="514.0" r="5.35"/>
<circle cx="460.7" cy="515.3" r="5.35"/>
<circle cx="466.6" cy="514.7" r="5.35"/>
<circle cx="472.5" cy="514.0" r="5.35"/>
<circle cx="454.8" cy="520.5" r="5.35"/>
<circle cx="449.8" cy="519.8" r="5.35"/>
<circle cx="444.8" cy="519.2" r="5.35"/>
<circle cx="439.8" cy="518.5" r="5.35"/>
<circle cx="459.8" cy="519.8" r="5.35"/>
<circle cx="464.8" cy="519.2" r="5.35"/>
<circle cx="469.8" cy="518.5" r="5.35"/>
<circle cx="454.8" cy="526.0" r="5.35"/>
<circle cx="449.3" cy="524.5" r="5.35"/>
<circle cx="443.8" cy="523.0" r="5.35"/>
<circle cx="460.6" cy="524.5" r="5.35"/>
<circle cx="466.3" cy="523.0" r="5.35"/>
<circle cx="454.8" cy="532.0" r="5.35"/>
<circle cx="449.3" cy="530.5" r="5.35"/>
<circle cx="443.8" cy="529.0" r="5.35"/>
<circle cx="460.6" cy="530.5" r="5.35"/>
<circle cx="466.3" cy="529.0" r="5.35"/>
<circle cx="454.8" cy="536.5" r="5.35"/>
<circle cx="450.1" cy="535.5" r="5.35"/>
<circle cx="445.5" cy="534.5" r="5.35"/>
<circle cx="440.8" cy="533.5" r="5.35"/>
<circle cx="459.5" cy="535.5" r="5.35"/>
<circle cx="464.1" cy="534.5" r="5.35"/>
<circle cx="468.8" cy="533.5" r="5.35"/>
<circle cx="454.8" cy="539.5" r="5.35"/>
<circle cx="448.8" cy="538.8" r="5.35"/>
<circle cx="442.8" cy="538.2" r="5.35"/>
<circle cx="436.8" cy="537.5" r="5.35"/>
<circle cx="460.8" cy="538.8" r="5.35"/>
<circle cx="466.8" cy="538.2" r="5.35"/>
<circle cx="472.8" cy="537.5" r="5.35"/>
<circle cx="454.8" cy="542.5" r="5.35"/>
<circle cx="449.8" cy="541.8" r="5.35"/>
<circle cx="444.8" cy="541.2" r="5.35"/>
<circle cx="439.8" cy="540.5" r="5.35"/>
<circle cx="459.8" cy="541.8" r="5.35"/>
<circle cx="464.8" cy="541.2" r="5.35"/>
<circle cx="469.8" cy="540.5" r="5.35"/>
<circle cx="454.8" cy="547.5" r="5.35"/>
<circle cx="450.4" cy="546.0" r="5.35"/>
<circle cx="446.1" cy="544.5" r="5.35"/>
<circle cx="460.8" cy="544.5" r="5.35"/>
<circle cx="454.8" cy="552.0" r="5.35"/>
<circle cx="448.8" cy="551.3" r="5.35"/>
<circle cx="442.8" cy="550.7" r="5.35"/>
<circle cx="436.8" cy="550.0" r="5.35"/>
<circle cx="460.8" cy="551.3" r="5.35"/>
<circle cx="466.8" cy="550.7" r="5.35"/>
<circle cx="472.8" cy="550.0" r="5.35"/>
<circle cx="454.8" cy="556.5" r="5.35"/>
<circle cx="449.5" cy="555.8" r="5.35"/>
<circle cx="444.1" cy="555.2" r="5.35"/>
<circle cx="438.8" cy="554.5" r="5.35"/>
<circle cx="460.1" cy="555.8" r="5.35"/>
<circle cx="465.5" cy="555.2" r="5.35"/>
<circle cx="470.8" cy="554.5" r="5.35"/>
<circle cx="454.8" cy="562.5" r="5.35"/>
<circle cx="450.5" cy="561.5" r="5.35"/>
<circle cx="446.1" cy="560.5" r="5.35"/>
<circle cx="441.8" cy="559.5" r="5.35"/>
<circle cx="459.1" cy="561.5" r="5.35"/>
<circle cx="463.5" cy="560.5" r="5.35"/>
<circle cx="467.8" cy="559.5" r="5.35"/>
<circle cx="454.8" cy="567.0" r="5.35"/>
<circle cx="448.8" cy="566.3" r="5.35"/>
<circle cx="442.8" cy="565.7" r="5.35"/>
<circle cx="436.8" cy="565.0" r="5.35"/>
<circle cx="460.8" cy="566.3" r="5.35"/>
<circle cx="466.8" cy="565.7" r="5.35"/>
<circle cx="472.8" cy="565.0" r="5.35"/>
<circle cx="454.8" cy="574.5" r="5.35"/>
<circle cx="450.5" cy="573.5" r="5.35"/>
<circle cx="446.1" cy="572.5" r="5.35"/>
<circle cx="441.8" cy="571.5" r="5.35"/>
<circle cx="459.1" cy="573.5" r="5.35"/>
<circle cx="463.5" cy="572.5" r="5.35"/>
<circle cx="467.8" cy="571.5" r="5.35"/>
<circle cx="454.8" cy="579.5" r="5.35"/>
<circle cx="448.8" cy="578.8" r="5.35"/>
<circle cx="442.8" cy="578.2" r="5.35"/>
<circle cx="436.8" cy="577.5" r="5.35"/>
<circle cx="460.8" cy="578.8" r="5.35"/>
<circle cx="466.8" cy="578.2" r="5.35"/>
<circle cx="472.8" cy="577.5" r="5.35"/>
<circle cx="454.8" cy="583.0" r="5.35"/>
<circle cx="449.5" cy="582.3" r="5.35"/>
<circle cx="444.1" cy="581.7" r="5.35"/>
<circle cx="438.8" cy="581.0" r="5.35"/>
<circle cx="460.1" cy="582.3" r="5.35"/>
<circle cx="465.5" cy="581.7" r="5.35"/>
<circle cx="470.8" cy="581.0" r="5.35"/>
<circle cx="454.8" cy="588.7" r="5.35"/>
<circle cx="450.5" cy="587.7" r="5.35"/>
<circle cx="446.1" cy="586.7" r="5.35"/>
<circle cx="441.8" cy="585.7" r="5.35"/>
<circle cx="459.1" cy="587.7" r="5.35"/>
<circle cx="463.5" cy="586.7" r="5.35"/>
<circle cx="467.8" cy="585.7" r="5.35"/>
<circle cx="454.8" cy="592.0" r="5.35"/>
<circle cx="449.5" cy="591.3" r="5.35"/>
<circle cx="444.1" cy="590.7" r="5.35"/>
<circle cx="438.8" cy="590.0" r="5.35"/>
<circle cx="460.1" cy="591.3" r="5.35"/>
<circle cx="465.5" cy="590.7" r="5.35"/>
<circle cx="470.8" cy="590.0" r="5.35"/>
<circle cx="454.8" cy="602.5" r="5.35"/>
<circle cx="450.2" cy="600.2" r="5.35"/>
<circle cx="445.6" cy="598.0" r="5.35"/>
<circle cx="441.0" cy="595.8" r="5.35"/>
<circle cx="436.4" cy="593.5" r="5.35"/>
<circle cx="459.4" cy="600.2" r="5.35"/>
<circle cx="464.0" cy="598.0" r="5.35"/>
<circle cx="468.6" cy="595.8" r="5.35"/>
<circle cx="473.2" cy="593.5" r="5.35"/>
<circle cx="454.8" cy="606.0" r="5.35"/>
<circle cx="449.0" cy="602.8" r="5.35"/>
<circle cx="443.1" cy="599.7" r="5.35"/>
<circle cx="437.3" cy="596.5" r="5.35"/>
<circle cx="460.6" cy="602.8" r="5.35"/>
<circle cx="466.5" cy="599.7" r="5.35"/>
<circle cx="472.3" cy="596.5" r="5.35"/>
<circle cx="454.8" cy="619.8" r="5.35"/>
<circle cx="450.1" cy="617.4" r="5.35"/>
<circle cx="445.4" cy="615.0" r="5.35"/>
<circle cx="440.6" cy="612.7" r="5.35"/>
<circle cx="435.9" cy="610.3" r="5.35"/>
<circle cx="459.3" cy="617.4" r="5.35"/>
<circle cx="463.9" cy="615.0" r="5.35"/>
<circle cx="468.4" cy="612.7" r="5.35"/>
<circle cx="472.9" cy="610.3" r="5.35"/>
<circle cx="454.8" cy="622.8" r="5.35"/>
<circle cx="448.8" cy="619.6" r="5.35"/>
<circle cx="442.8" cy="616.5" r="5.35"/>
<circle cx="436.8" cy="613.3" r="5.35"/>
<circle cx="460.5" cy="619.6" r="5.35"/>
<circle cx="466.3" cy="616.5" r="5.35"/>
<circle cx="472.0" cy="613.3" r="5.35"/>
<circle cx="454.8" cy="636.3" r="5.35"/>
<circle cx="450.2" cy="633.5" r="5.35"/>
<circle cx="445.6" cy="630.8" r="5.35"/>
<circle cx="440.9" cy="628.0" r="5.35"/>
<circle cx="436.3" cy="625.3" r="5.35"/>
<circle cx="459.3" cy="633.5" r="5.35"/>
<circle cx="463.9" cy="630.8" r="5.35"/>
<circle cx="468.4" cy="628.0" r="5.35"/>
<circle cx="472.9" cy="625.3" r="5.35"/>
<circle cx="454.8" cy="638.8" r="5.35"/>
<circle cx="449.0" cy="635.3" r="5.35"/>
<circle cx="443.1" cy="631.8" r="5.35"/>
<circle cx="437.3" cy="628.3" r="5.35"/>
<circle cx="460.5" cy="635.3" r="5.35"/>
<circle cx="466.2" cy="631.8" r="5.35"/>
<circle cx="471.9" cy="628.3" r="5.35"/>
<circle cx="436.5" cy="643.8" r="5.35"/>
<circle cx="473.2" cy="643.5" r="5.35"/>
<circle cx="441.9" cy="647.7" r="5.35"/>
<circle cx="468.1" cy="648.5" r="5.35"/>
<circle cx="446.5" cy="653.0" r="5.35"/>
<circle cx="462.7" cy="653.0" r="5.35"/>
<circle cx="448.1" cy="659.2" r="5.35"/>
<circle cx="458.1" cy="657.7" r="5.35"/>
<circle cx="449.6" cy="664.6" r="5.35"/>
<circle cx="435.8" cy="660.0" r="5.35"/>
<circle cx="473.5" cy="662.3" r="5.35"/>
<circle cx="461.2" cy="673.1" r="5.35"/>
<circle cx="441.2" cy="679.2" r="5.35"/>
<circle cx="468.1" cy="681.5" r="5.35"/>
<circle cx="454.7" cy="693.1" r="5.35"/>
</g>
<g fill="#fff" stroke="#fff" stroke-width="1.0" stroke-linecap="round" stroke-linejoin="round">
<ellipse cx="381.2" cy="129" rx="2.2" ry="1.4" stroke="none"/>
<polyline points="373.9,152.3 381.1,156 389.2,152.3" fill="none"/>
<polyline points="372.1,164.1 381.1,169.5 390.1,164.1" fill="none"/>
<polyline points="372.1,191.2 378.4,194.8" fill="none"/>
<polyline points="383.8,194.8 390.1,191.2" fill="none"/>
<ellipse cx="381.3" cy="212.3" rx="4.2" ry="1.8" stroke="none"/>
<polyline points="441.9,209.6 454.9,216.6 466.8,209.6" fill="none"/>
<ellipse cx="454.9" cy="189.2" rx="2.4" ry="1.6" stroke="none"/>
<ellipse cx="381.0" cy="516.2" rx="2.6" ry="1.6" stroke="none"/>
<ellipse cx="381.0" cy="529.3" rx="1.5" ry="2.8" stroke="none"/>
<ellipse cx="380.4" cy="547.2" rx="2.6" ry="1.6" stroke="none"/>
<polyline points="372.7,574 379.8,577.7 385.8,574.7" fill="none"/>
<ellipse cx="379.0" cy="591.5" rx="1.3" ry="1.8" stroke="none"/>
<polyline points="373.5,603.8 378.4,606.6" fill="none"/>
<polyline points="384.0,606.6 388.8,603.8" fill="none"/>
<ellipse cx="455.0" cy="538.3" rx="2.5" ry="1.7" stroke="none"/>
<ellipse cx="453.8" cy="553.2" rx="2.5" ry="1.7" stroke="none"/>
<ellipse cx="454.4" cy="569.0" rx="2.5" ry="1.7" stroke="none"/>
<ellipse cx="454.4" cy="584.6" rx="2.5" ry="1.7" stroke="none"/>
<polyline points="452.6,522.5 456,525 459.8,522.5" fill="none"/>
<polyline points="151.5,501 158.5,505.8 164.5,504.3" fill="none"/>
<ellipse cx="160.3" cy="490.8" rx="1.2" ry="1.0" stroke="none"/>
<ellipse cx="307.4" cy="137.5" rx="1.6" ry="1.2" stroke="none"/>
<ellipse cx="160.0" cy="138.8" rx="1.8" ry="1.3" stroke="none"/>
</g>
<g opacity="0.8">
<line x1="160.00" y1="90.50" x2="160.00" y2="125.40" stroke="#000" stroke-width="2.2"/>
<line x1="148.00" y1="90.50" x2="172.00" y2="90.50" stroke="#000" stroke-width="2.2"/>
<line x1="160.00" y1="146.70" x2="160.00" y2="203.80" stroke="#000" stroke-width="2.2"/>
<line x1="148.00" y1="203.80" x2="172.00" y2="203.80" stroke="#000" stroke-width="2.2"/>
<rect x="135.20" y="125.40" width="49.60" height="21.30" fill="none" stroke="#000" stroke-width="2.2"/>
<line x1="135.20" y1="135.40" x2="184.80" y2="135.40" stroke="#000" stroke-width="2.2"/>
<line x1="233.70" y1="103.50" x2="233.70" y2="122.30" stroke="#000" stroke-width="2.2"/>
<line x1="221.70" y1="103.50" x2="245.70" y2="103.50" stroke="#000" stroke-width="2.2"/>
<line x1="233.70" y1="154.80" x2="233.70" y2="165.00" stroke="#000" stroke-width="2.2"/>
<line x1="221.70" y1="165.00" x2="245.70" y2="165.00" stroke="#000" stroke-width="2.2"/>
<rect x="208.90" y="122.30" width="49.60" height="32.50" fill="none" stroke="#000" stroke-width="2.2"/>
<line x1="208.90" y1="134.90" x2="258.50" y2="134.90" stroke="#000" stroke-width="2.2"/>
<line x1="307.40" y1="80.20" x2="307.40" y2="134.30" stroke="#000" stroke-width="2.2"/>
<line x1="295.40" y1="80.20" x2="319.40" y2="80.20" stroke="#000" stroke-width="2.2"/>
<line x1="307.40" y1="173.20" x2="307.40" y2="277.20" stroke="#000" stroke-width="2.2"/>
<line x1="295.40" y1="277.20" x2="319.40" y2="277.20" stroke="#000" stroke-width="2.2"/>
<rect x="282.60" y="134.30" width="49.60" height="38.90" fill="none" stroke="#000" stroke-width="2.2"/>
<line x1="282.60" y1="146.90" x2="332.20" y2="146.90" stroke="#000" stroke-width="2.2"/>
<line x1="381.10" y1="111.50" x2="381.10" y2="146.90" stroke="#000" stroke-width="2.2"/>
<line x1="369.10" y1="111.50" x2="393.10" y2="111.50" stroke="#000" stroke-width="2.2"/>
<line x1="381.10" y1="174.60" x2="381.10" y2="236.90" stroke="#000" stroke-width="2.2"/>
<line x1="369.10" y1="236.90" x2="393.10" y2="236.90" stroke="#000" stroke-width="2.2"/>
<rect x="356.30" y="146.90" width="49.60" height="27.70" fill="none" stroke="#000" stroke-width="2.2"/>
<line x1="356.30" y1="161.80" x2="405.90" y2="161.80" stroke="#000" stroke-width="2.2"/>
<line x1="454.80" y1="120.30" x2="454.80" y2="162.80" stroke="#000" stroke-width="2.2"/>
<line x1="442.80" y1="120.30" x2="466.80" y2="120.30" stroke="#000" stroke-width="2.2"/>
<line x1="454.80" y1="193.80" x2="454.80" y2="268.20" stroke="#000" stroke-width="2.2"/>
<line x1="442.80" y1="268.20" x2="466.80" y2="268.20" stroke="#000" stroke-width="2.2"/>
<rect x="430.00" y="162.80" width="49.60" height="31.00" fill="none" stroke="#000" stroke-width="2.2"/>
<line x1="430.00" y1="177.70" x2="479.60" y2="177.70" stroke="#000" stroke-width="2.2"/>
<line x1="160.00" y1="511.20" x2="160.00" y2="579.50" stroke="#000" stroke-width="2.2"/>
<line x1="148.00" y1="579.50" x2="172.00" y2="579.50" stroke="#000" stroke-width="2.2"/>
<rect x="135.20" y="489.20" width="49.60" height="22.00" fill="none" stroke="#000" stroke-width="2.2"/>
<line x1="135.20" y1="498.50" x2="184.80" y2="498.50" stroke="#000" stroke-width="2.2"/>
<line x1="233.70" y1="519.50" x2="233.70" y2="555.40" stroke="#000" stroke-width="2.2"/>
<line x1="221.70" y1="555.40" x2="245.70" y2="555.40" stroke="#000" stroke-width="2.2"/>
<rect x="208.90" y="489.20" width="49.60" height="30.30" fill="none" stroke="#000" stroke-width="2.2"/>
<line x1="208.90" y1="498.00" x2="258.50" y2="498.00" stroke="#000" stroke-width="2.2"/>
<line x1="307.40" y1="514.60" x2="307.40" y2="695.30" stroke="#000" stroke-width="2.2"/>
<line x1="295.40" y1="695.30" x2="319.40" y2="695.30" stroke="#000" stroke-width="2.2"/>
<rect x="282.60" y="489.20" width="49.60" height="25.40" fill="none" stroke="#000" stroke-width="2.2"/>
<line x1="282.60" y1="497.70" x2="332.20" y2="497.70" stroke="#000" stroke-width="2.2"/>
<line x1="381.10" y1="489.50" x2="381.10" y2="502.50" stroke="#000" stroke-width="2.2"/>
<line x1="369.10" y1="489.50" x2="393.10" y2="489.50" stroke="#000" stroke-width="2.2"/>
<line x1="381.10" y1="559.20" x2="381.10" y2="662.60" stroke="#000" stroke-width="2.2"/>
<line x1="369.10" y1="662.60" x2="393.10" y2="662.60" stroke="#000" stroke-width="2.2"/>
<rect x="356.30" y="502.50" width="49.60" height="56.70" fill="none" stroke="#000" stroke-width="2.2"/>
<line x1="356.30" y1="524.30" x2="405.90" y2="524.30" stroke="#000" stroke-width="2.2"/>
<line x1="454.80" y1="490.00" x2="454.80" y2="520.00" stroke="#000" stroke-width="2.2"/>
<line x1="442.80" y1="490.00" x2="466.80" y2="490.00" stroke="#000" stroke-width="2.2"/>
<line x1="454.80" y1="589.70" x2="454.80" y2="693.10" stroke="#000" stroke-width="2.2"/>
<line x1="442.80" y1="693.10" x2="466.80" y2="693.10" stroke="#000" stroke-width="2.2"/>
<rect x="430.00" y="520.00" width="49.60" height="69.70" fill="none" stroke="#000" stroke-width="2.2"/>
<line x1="430.00" y1="554.20" x2="479.60" y2="554.20" stroke="#000" stroke-width="2.2"/>
</g>
<text x="145.70" y="344.20" font-size="15.6" text-anchor="start" font-weight="normal" textLength="30.10" lengthAdjust="spacingAndGlyphs">HJV</text>
<text x="210.00" y="344.20" font-size="15.6" text-anchor="start" font-weight="normal" textLength="47.10" lengthAdjust="spacingAndGlyphs">HAMP</text>
<text x="288.00" y="344.20" font-size="15.6" text-anchor="start" font-weight="normal" textLength="39.30" lengthAdjust="spacingAndGlyphs">TFR2</text>
<text x="350.00" y="344.20" font-size="15.6" text-anchor="start" font-weight="normal" textLength="62.70" lengthAdjust="spacingAndGlyphs">Proband</text>
<text x="436.80" y="344.20" font-size="15.6" text-anchor="start" font-weight="normal" textLength="36.20" lengthAdjust="spacingAndGlyphs">Non-</text>
<text x="423.90" y="363.30" font-size="15.6" text-anchor="start" font-weight="normal" textLength="62.90" lengthAdjust="spacingAndGlyphs">proband</text>
<line x1="357.60" y1="374.50" x2="484.00" y2="374.50" stroke="#000" stroke-width="2.0"/>
<text x="405.60" y="394.40" font-size="15.6" text-anchor="start" font-weight="normal" textLength="30.60" lengthAdjust="spacingAndGlyphs">HFE</text>
<text x="145.70" y="734.70" font-size="15.6" text-anchor="start" font-weight="normal" textLength="30.10" lengthAdjust="spacingAndGlyphs">HJV</text>
<text x="210.00" y="734.70" font-size="15.6" text-anchor="start" font-weight="normal" textLength="47.10" lengthAdjust="spacingAndGlyphs">HAMP</text>
<text x="288.00" y="734.70" font-size="15.6" text-anchor="start" font-weight="normal" textLength="39.30" lengthAdjust="spacingAndGlyphs">TFR2</text>
<text x="350.00" y="734.70" font-size="15.6" text-anchor="start" font-weight="normal" textLength="62.70" lengthAdjust="spacingAndGlyphs">Proband</text>
<text x="436.80" y="734.70" font-size="15.6" text-anchor="start" font-weight="normal" textLength="36.20" lengthAdjust="spacingAndGlyphs">Non-</text>
<text x="423.90" y="753.80" font-size="15.6" text-anchor="start" font-weight="normal" textLength="62.90" lengthAdjust="spacingAndGlyphs">proband</text>
<line x1="357.60" y1="765.00" x2="484.00" y2="765.00" stroke="#000" stroke-width="2.0"/>
<text x="405.60" y="784.90" font-size="15.6" text-anchor="start" font-weight="normal" textLength="30.60" lengthAdjust="spacingAndGlyphs">HFE</text>
<text x="307.20" y="68.20" font-size="14.5" text-anchor="middle" font-weight="normal" >a</text>
<text x="381.30" y="99.50" font-size="14.5" text-anchor="middle" font-weight="normal" >ab</text>
<text x="454.90" y="106.90" font-size="14.5" text-anchor="middle" font-weight="normal" letter-spacing="0.6">abcd</text>
<text x="381.50" y="477.40" font-size="14.5" text-anchor="middle" font-weight="normal" >ac</text>
<text x="454.90" y="477.40" font-size="14.5" text-anchor="middle" font-weight="normal" letter-spacing="0.6">abcd</text>
<text transform="translate(31.3,298.3) rotate(-90)" x="0" y="0" font-size="19.8" textLength="229" lengthAdjust="spacingAndGlyphs">Serum ferritin at diagnosis (&#956;g/L)</text>
<text transform="translate(59.3,703.6) rotate(-90)" x="0" y="0" font-size="19.8" textLength="258.5" lengthAdjust="spacingAndGlyphs">Transferrin saturation at diagnosis (%)</text>
</g></svg>
<div class="frame"></div>
</body></html>
